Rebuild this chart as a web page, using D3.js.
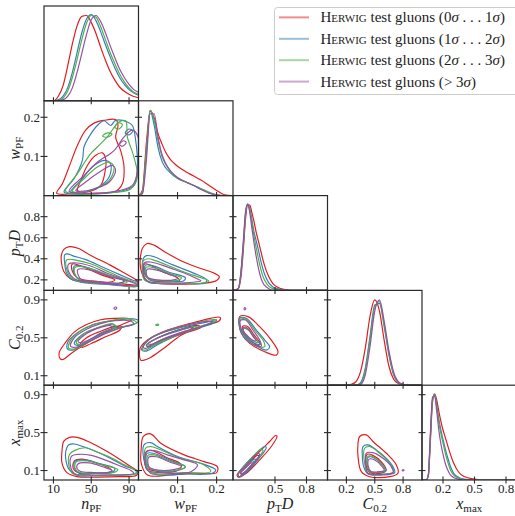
<!DOCTYPE html>
<html>
<head>
<meta charset="utf-8">
<script src="https://cdn.jsdelivr.net/npm/d3@7"></script>
<style>
  body { margin: 0; background: #fff; }
  svg { display: block; font-family: "Liberation Serif", "DejaVu Serif", serif; }
</style>
</head>
<body>
<svg id="chart" width="515" height="516"></svg>
<script>
// ---------------- data ----------------
const seriesColors = ["#e41a1c", "#377eb8", "#4daf4a", "#984ea3"];
const legendGenerator = "Herwig";
const legendRanges = ["0σ . . . 1σ", "1σ . . . 2σ", "2σ . . . 3σ", "> 3σ"];

// axis titles: [italic symbol, subscript, trailing italic symbol]
const axisTitles = [["n", "PF", ""], ["w", "PF", ""], ["p", "T", "D"], ["C", "0.2", ""], ["x", "max", ""]];
const xAxisDomains = [[0, 100], [0, 0.242], [0.1, 1.0], [0, 1], [0, 0.9]];
const yAxisDomains = [null, [0, 0.242], [0.1, 1.0], [0, 1], [0, 1]];
const xTickValues = [[10, 50, 90], [0.1, 0.2], [0.5, 0.8], [0.2, 0.5, 0.8], [0.2, 0.5, 0.8]];
const yTickValues = [[], [0.1, 0.2], [0.2, 0.4, 0.6, 0.8], [0.1, 0.5, 0.9], [0.1, 0.5, 0.9]];

// 1D marginal densities (peak-normalised), one grid per variable
const gridNpf = [0, 5, 10, 15, 20, 25, 30, 35, 40, 45, 50, 55, 60, 65, 70, 75, 80, 85, 90, 95, 100];
const densNpf = [
  [0, 0, 0, 0.05, 0.17, 0.40, 0.66, 0.87, 0.98, 0.99, 0.91, 0.78, 0.62, 0.47, 0.34, 0.24, 0.16, 0.11, 0.075, 0.05, 0.035],
  [0, 0, 0, 0.01, 0.05, 0.15, 0.33, 0.56, 0.79, 0.95, 1.0, 0.93, 0.80, 0.65, 0.51, 0.38, 0.27, 0.19, 0.13, 0.09, 0.065],
  [0, 0, 0, 0, 0.03, 0.11, 0.27, 0.48, 0.71, 0.90, 0.99, 0.97, 0.86, 0.71, 0.56, 0.43, 0.31, 0.22, 0.15, 0.10, 0.075],
  [0, 0, 0, 0, 0.01, 0.05, 0.15, 0.33, 0.55, 0.77, 0.94, 0.99, 0.92, 0.79, 0.64, 0.50, 0.37, 0.27, 0.19, 0.13, 0.10]
];
const gridWpf = [0, 0.01, 0.02, 0.03, 0.04, 0.05, 0.06, 0.07, 0.08, 0.09, 0.10, 0.12, 0.14, 0.16, 0.18, 0.20, 0.22, 0.242];
const densWpf = [
  [0, 0.06, 0.60, 0.99, 0.90, 0.72, 0.60, 0.50, 0.43, 0.38, 0.34, 0.28, 0.23, 0.18, 0.12, 0.06, 0.01, 0],
  [0, 0.03, 0.50, 0.98, 0.82, 0.56, 0.40, 0.32, 0.27, 0.23, 0.20, 0.16, 0.12, 0.08, 0.03, 0.005, 0, 0],
  [0, 0.04, 0.52, 0.99, 0.88, 0.64, 0.46, 0.36, 0.29, 0.24, 0.20, 0.16, 0.12, 0.08, 0.04, 0.01, 0, 0],
  [0, 0.02, 0.40, 0.95, 0.95, 0.68, 0.48, 0.37, 0.30, 0.25, 0.21, 0.16, 0.12, 0.07, 0.03, 0.01, 0, 0]
];
const gridPtd = [0.1, 0.15, 0.18, 0.2, 0.22, 0.24, 0.26, 0.28, 0.30, 0.32, 0.34, 0.36, 0.38, 0.40, 0.44, 0.48, 0.52, 0.6, 0.7, 1.0];
const densPtd = [
  [0, 0.02, 0.20, 0.50, 0.84, 0.99, 0.99, 0.90, 0.80, 0.68, 0.58, 0.48, 0.38, 0.29, 0.16, 0.08, 0.04, 0.01, 0, 0],
  [0, 0.02, 0.25, 0.55, 0.88, 1.0, 0.95, 0.82, 0.68, 0.58, 0.48, 0.37, 0.27, 0.19, 0.09, 0.04, 0.02, 0, 0, 0],
  [0, 0.02, 0.26, 0.57, 0.90, 1.0, 0.93, 0.78, 0.63, 0.50, 0.38, 0.27, 0.18, 0.12, 0.05, 0.02, 0.01, 0, 0, 0],
  [0, 0.02, 0.28, 0.60, 0.92, 1.0, 0.90, 0.72, 0.55, 0.40, 0.27, 0.17, 0.10, 0.06, 0.02, 0, 0, 0, 0, 0]
];
const gridC02 = [0, 0.2, 0.25, 0.3, 0.35, 0.4, 0.45, 0.5, 0.55, 0.6, 0.65, 0.7, 0.75, 0.8, 0.85, 1.0];
const densC02 = [
  [0, 0, 0.01, 0.04, 0.16, 0.43, 0.80, 0.99, 0.86, 0.52, 0.22, 0.07, 0.02, 0, 0, 0],
  [0, 0, 0, 0, 0.03, 0.20, 0.57, 0.93, 0.95, 0.68, 0.35, 0.12, 0.03, 0.01, 0, 0],
  [0, 0, 0, 0, 0.02, 0.17, 0.53, 0.90, 0.97, 0.70, 0.37, 0.13, 0.03, 0, 0, 0],
  [0, 0, 0, 0, 0.01, 0.12, 0.45, 0.86, 0.99, 0.74, 0.40, 0.15, 0.04, 0.01, 0, 0]
];
const gridXmax = [0, 0.04, 0.06, 0.08, 0.10, 0.12, 0.14, 0.16, 0.18, 0.20, 0.22, 0.24, 0.27, 0.30, 0.35, 0.40, 0.5, 0.6, 0.9];
const densXmax = [
  [0, 0, 0.05, 0.45, 0.90, 1.0, 0.93, 0.80, 0.68, 0.58, 0.50, 0.42, 0.30, 0.20, 0.09, 0.04, 0.01, 0, 0],
  [0, 0, 0.05, 0.50, 0.93, 0.99, 0.87, 0.71, 0.58, 0.47, 0.37, 0.28, 0.16, 0.08, 0.03, 0.01, 0, 0, 0],
  [0, 0, 0.05, 0.50, 0.93, 0.99, 0.85, 0.67, 0.54, 0.43, 0.32, 0.23, 0.12, 0.06, 0.02, 0, 0, 0, 0],
  [0, 0, 0.06, 0.55, 0.96, 0.98, 0.80, 0.58, 0.42, 0.30, 0.20, 0.13, 0.06, 0.03, 0.01, 0, 0, 0, 0]
];

// 2D density contours: per series (red, blue, green, purple) a list of closed loops of [x, y] values
const cWpfNpf = [
  [[[13.4,0.006],[19.4,0.03],[26.5,0.073],[35.3,0.128],[44.1,0.167],[52.9,0.185],[63.5,0.192],[75.8,0.194],[78.3,0.179],[75.8,0.15],[81.1,0.115],[84.7,0.073],[82.9,0.03],[75.8,0.011],[52.9,0.006],[28.2,0.004]],
   [[35.3,0.013],[38.8,0.038],[45.9,0.077],[54.7,0.103],[61.7,0.109],[65.3,0.094],[64.2,0.056],[60,0.026],[49.4,0.011],[38.8,0.009]]],
  [[[21.2,0.009],[31.7,0.043],[40.6,0.09],[42.3,0.124],[47.6,0.15],[56.4,0.179],[63.5,0.191],[70.5,0.179],[75.8,0.192],[88.2,0.188],[93.5,0.179],[97,0.141],[98.8,0.073],[95.2,0.026],[81.1,0.011],[52.9,0.004],[31.7,0.004]],
   [[28.2,0.009],[38.8,0.038],[51.1,0.073],[63.5,0.09],[70.5,0.081],[68.8,0.047],[56.4,0.02],[38.8,0.008]],
   [[86,0.16],[90,0.17],[94,0.165],[90,0.155]]],
  [[[22.9,0.011],[35.3,0.056],[49.4,0.107],[56.4,0.124],[67,0.15],[79.4,0.188],[86.4,0.191],[88.2,0.15],[95.2,0.098],[98.8,0.047],[91.7,0.017],[63.5,0.006],[38.8,0.004]],
   [[30,0.011],[42.3,0.043],[56.4,0.073],[68.8,0.085],[74.1,0.073],[68.8,0.038],[52.9,0.017],[37,0.008]],
   [[62,0.152],[67,0.16],[72,0.157],[67,0.149]],
   [[75,0.175],[79,0.186],[83,0.181],[79,0.17]]],
  [[[26.5,0.011],[42.3,0.051],[56.4,0.085],[74.1,0.115],[84.7,0.15],[93.5,0.167],[99.5,0.15],[99.5,0.073],[93.5,0.026],[70.5,0.009],[42.3,0.006]],
   [[33.5,0.013],[45.9,0.038],[60,0.062],[72.3,0.077],[75.8,0.064],[68.8,0.034],[52.9,0.017],[38.8,0.011]],
   [[80,0.13],[84,0.14],[87,0.136],[83,0.126]]]
];
const cPtdNpf = [
  [[[18.5,0.44],[21,0.49],[27,0.515],[36,0.5],[50,0.43],[70,0.34],[85,0.265],[95,0.215],[99,0.185],[98,0.155],[85,0.16],[60,0.17],[42,0.178],[28,0.21],[21,0.28],[18.5,0.36]],
   [[30,0.35],[40,0.33],[60,0.25],[75,0.2],[70,0.18],[50,0.19],[35,0.22],[30,0.28]]],
  [[[22,0.44],[26,0.445],[30,0.43],[45,0.39],[60,0.33],[75,0.27],[90,0.21],[100,0.17],[100,0.14],[70,0.155],[45,0.17],[30,0.2],[24,0.26],[22,0.35]],
   [[32,0.33],[45,0.32],[65,0.25],[85,0.19],[80,0.17],[55,0.18],[38,0.2],[32,0.26]]],
  [[[24,0.39],[35,0.385],[50,0.35],[65,0.29],[80,0.23],[95,0.18],[100,0.16],[98,0.14],[70,0.16],[45,0.175],[30,0.21],[24,0.3]],
   [[33,0.32],[48,0.31],[70,0.24],[88,0.18],[82,0.165],[55,0.18],[38,0.2],[33,0.25]]],
  [[[26,0.35],[35,0.36],[50,0.33],[65,0.27],[80,0.22],[95,0.17],[100,0.15],[90,0.145],[65,0.165],[45,0.18],[32,0.21],[26,0.28]],
   [[36,0.3],[50,0.29],[70,0.23],[85,0.19],[80,0.17],[55,0.185],[40,0.2],[36,0.25]]]
];
const cPtdWpf = [
  [[[0.005,0.42],[0.01,0.5],[0.022,0.545],[0.04,0.53],[0.07,0.46],[0.11,0.38],[0.15,0.32],[0.19,0.27],[0.207,0.23],[0.2,0.195],[0.16,0.165],[0.1,0.16],[0.05,0.165],[0.02,0.19],[0.006,0.3]],
   [[0.015,0.35],[0.03,0.34],[0.06,0.28],[0.1,0.22],[0.105,0.19],[0.07,0.185],[0.03,0.2],[0.015,0.26]]],
  [[[0.012,0.4],[0.02,0.43],[0.04,0.42],[0.07,0.37],[0.11,0.31],[0.15,0.25],[0.175,0.2],[0.17,0.17],[0.12,0.165],[0.06,0.165],[0.025,0.18],[0.012,0.26]],
   [[0.018,0.34],[0.04,0.33],[0.08,0.27],[0.12,0.22],[0.115,0.19],[0.07,0.19],[0.03,0.2],[0.017,0.26]]],
  [[[0.012,0.38],[0.025,0.4],[0.045,0.38],[0.08,0.33],[0.12,0.27],[0.16,0.22],[0.18,0.19],[0.16,0.168],[0.1,0.168],[0.04,0.172],[0.015,0.2],[0.01,0.28]],
   [[0.02,0.32],[0.045,0.31],[0.08,0.26],[0.11,0.22],[0.1,0.195],[0.06,0.19],[0.025,0.21],[0.018,0.26]]],
  [[[0.014,0.36],[0.03,0.37],[0.06,0.34],[0.09,0.3],[0.12,0.26],[0.15,0.21],[0.16,0.19],[0.12,0.172],[0.07,0.172],[0.03,0.18],[0.015,0.22],[0.012,0.3]],
   [[0.022,0.3],[0.05,0.29],[0.08,0.25],[0.1,0.215],[0.09,0.2],[0.05,0.2],[0.025,0.22],[0.02,0.26]]]
];
const cC02Npf = [
  [[[17,0.28],[16,0.34],[22,0.44],[32,0.56],[45,0.64],[60,0.69],[75,0.705],[88,0.705],[93,0.69],[85,0.65],[70,0.58],[55,0.5],[40,0.41],[28,0.33],[20,0.27]],
   [[38,0.42],[45,0.5],[60,0.57],[75,0.62],[82,0.62],[80,0.58],[65,0.51],[50,0.44],[40,0.4]]],
  [[[25,0.38],[25,0.45],[35,0.55],[50,0.63],[65,0.67],[80,0.69],[95,0.7],[100,0.68],[95,0.64],[75,0.6],[55,0.5],[40,0.42],[30,0.37]],
   [[32,0.44],[40,0.53],[55,0.6],[70,0.64],[75,0.62],[60,0.55],[45,0.46],[36,0.42]]],
  [[[26,0.39],[28,0.47],[38,0.57],[52,0.64],[70,0.68],[90,0.7],[98,0.66],[85,0.62],[65,0.55],[48,0.46],[35,0.39]],
   [[34,0.45],[42,0.54],[58,0.61],[72,0.65],[76,0.62],[62,0.55],[47,0.47],[38,0.43]]],
  [[[28,0.41],[32,0.5],[45,0.59],[60,0.65],[75,0.68],[90,0.68],[95,0.65],[80,0.6],[62,0.53],[46,0.45],[34,0.4]],
   [[36,0.46],[46,0.55],[60,0.61],[70,0.63],[72,0.6],[60,0.54],[48,0.48],[40,0.45]],
   [[74,0.81],[75.5,0.825],[77,0.815],[75.5,0.8]]]
];
const cC02Wpf = [
  [[[0.0056,0.265],[0.004,0.388],[0.023,0.476],[0.074,0.582],[0.134,0.653],[0.185,0.705],[0.209,0.716],[0.207,0.68],[0.16,0.62],[0.11,0.53],[0.065,0.39],[0.03,0.29],[0.012,0.262]],
   [[0.02,0.42],[0.05,0.5],[0.1,0.58],[0.15,0.63],[0.16,0.61],[0.11,0.54],[0.06,0.46],[0.03,0.41]]],
  [[[0.008,0.37],[0.02,0.46],[0.06,0.55],[0.12,0.62],[0.18,0.67],[0.2,0.69],[0.195,0.66],[0.15,0.6],[0.1,0.53],[0.05,0.43],[0.02,0.36]],
   [[0.02,0.42],[0.05,0.5],[0.1,0.57],[0.14,0.61],[0.13,0.58],[0.09,0.52],[0.05,0.45],[0.028,0.4]]],
  [[[0.01,0.38],[0.025,0.48],[0.07,0.57],[0.13,0.64],[0.185,0.69],[0.2,0.69],[0.18,0.65],[0.12,0.57],[0.07,0.49],[0.035,0.41],[0.018,0.37]],
   [[0.022,0.43],[0.055,0.51],[0.1,0.58],[0.15,0.62],[0.14,0.59],[0.1,0.53],[0.06,0.46],[0.03,0.42]],
   [[0.044,0.635],[0.048,0.645],[0.052,0.638],[0.048,0.63]]],
  [[[0.012,0.4],[0.03,0.49],[0.07,0.57],[0.12,0.63],[0.17,0.67],[0.19,0.67],[0.17,0.63],[0.12,0.57],[0.07,0.5],[0.035,0.43],[0.02,0.39]],
   [[0.025,0.44],[0.06,0.52],[0.1,0.58],[0.14,0.61],[0.13,0.58],[0.09,0.52],[0.055,0.47],[0.032,0.43]]]
];
const cC02Ptd = [
  [[[0.163,0.723],[0.243,0.723],[0.354,0.617],[0.465,0.476],[0.529,0.353],[0.513,0.317],[0.402,0.353],[0.259,0.441],[0.179,0.547],[0.157,0.653]],
   [[0.19,0.62],[0.24,0.62],[0.3,0.53],[0.36,0.44],[0.34,0.42],[0.27,0.47],[0.21,0.55]]],
  [[[0.163,0.705],[0.227,0.705],[0.322,0.582],[0.402,0.476],[0.449,0.406],[0.417,0.37],[0.338,0.406],[0.227,0.476],[0.17,0.582]],
   [[0.2,0.6],[0.25,0.58],[0.32,0.48],[0.36,0.43],[0.31,0.44],[0.24,0.5],[0.2,0.56]]],
  [[[0.17,0.695],[0.227,0.695],[0.306,0.582],[0.386,0.476],[0.402,0.406],[0.322,0.413],[0.227,0.494],[0.176,0.589]],
   [[0.2,0.6],[0.24,0.59],[0.3,0.5],[0.34,0.45],[0.3,0.46],[0.24,0.51],[0.2,0.56]]],
  [[[0.17,0.681],[0.221,0.688],[0.29,0.582],[0.354,0.476],[0.37,0.413],[0.306,0.423],[0.221,0.511],[0.176,0.6]],
   [[0.2,0.61],[0.24,0.6],[0.29,0.52],[0.32,0.47],[0.28,0.48],[0.23,0.53],[0.2,0.57]],
   [[0.205,0.805],[0.213,0.82],[0.222,0.81],[0.214,0.795]]]
];
const cXmaxNpf = [
  [[[19,0.3],[21,0.41],[27,0.45],[35,0.45],[48,0.4],[65,0.31],[80,0.22],[92,0.14],[99,0.09],[98,0.05],[80,0.035],[55,0.03],[35,0.035],[24,0.08],[19,0.18]],
   [[32,0.2],[40,0.22],[55,0.18],[70,0.12],[72,0.09],[55,0.07],[38,0.07],[31,0.12]]],
  [[[23,0.3],[26,0.37],[32,0.38],[42,0.35],[55,0.3],[70,0.23],[85,0.15],[97,0.1],[99,0.07],[80,0.05],[55,0.045],[35,0.05],[26,0.12],[23,0.22]],
   [[33,0.2],[45,0.21],[60,0.17],[75,0.12],[72,0.08],[50,0.07],[36,0.08],[32,0.13]]],
  [[[27,0.27],[32,0.31],[44,0.34],[55,0.3],[70,0.24],[85,0.16],[98,0.09],[95,0.06],[70,0.05],[45,0.05],[30,0.07],[26,0.17]],
   [[34,0.19],[46,0.2],[62,0.16],[78,0.11],[74,0.08],[52,0.075],[38,0.08],[33,0.12]]],
  [[[29,0.25],[36,0.27],[50,0.26],[65,0.21],[80,0.15],[92,0.1],[95,0.07],[70,0.055],[45,0.055],[32,0.07],[28,0.15]],
   [[36,0.17],[48,0.18],[62,0.14],[72,0.1],[68,0.08],[50,0.08],[39,0.09],[35,0.12]]]
];
const cXmaxWpf = [
  [[[0.0124,0.459],[0.031,0.487],[0.057,0.388],[0.117,0.265],[0.168,0.194],[0.202,0.141],[0.2,0.078],[0.142,0.071],[0.083,0.053],[0.023,0.053],[0.007,0.176],[0.007,0.335]],
   [[0.02,0.3],[0.035,0.31],[0.07,0.24],[0.11,0.16],[0.1,0.1],[0.05,0.09],[0.02,0.13]]],
  [[[0.014,0.37],[0.031,0.395],[0.048,0.353],[0.1,0.247],[0.16,0.176],[0.198,0.106],[0.189,0.071],[0.117,0.063],[0.031,0.071],[0.016,0.176]],
   [[0.022,0.28],[0.04,0.28],[0.08,0.21],[0.12,0.14],[0.1,0.1],[0.05,0.095],[0.023,0.14]]],
  [[[0.018,0.335],[0.031,0.353],[0.053,0.325],[0.108,0.229],[0.168,0.159],[0.185,0.088],[0.117,0.078],[0.031,0.078],[0.018,0.176]],
   [[0.024,0.26],[0.04,0.265],[0.08,0.2],[0.12,0.14],[0.1,0.105],[0.05,0.1],[0.025,0.14]]],
  [[[0.021,0.3],[0.04,0.31],[0.074,0.265],[0.117,0.212],[0.151,0.159],[0.134,0.088],[0.057,0.078],[0.022,0.106]],
   [[0.026,0.24],[0.045,0.245],[0.08,0.19],[0.11,0.14],[0.09,0.11],[0.05,0.105],[0.027,0.14]]]
];
const cXmaxPtd = [
  [[[0.138,0.053],[0.29,0.229],[0.449,0.406],[0.506,0.469],[0.519,0.459],[0.465,0.353],[0.354,0.212],[0.227,0.071],[0.157,0.028]],
   [[0.17,0.07],[0.25,0.17],[0.33,0.26],[0.35,0.25],[0.28,0.15],[0.2,0.06]]],
  [[[0.148,0.06],[0.259,0.212],[0.402,0.353],[0.417,0.342],[0.322,0.194],[0.211,0.063],[0.157,0.035]],
   [[0.17,0.07],[0.24,0.15],[0.3,0.22],[0.32,0.21],[0.26,0.13],[0.19,0.065]]],
  [[[0.148,0.06],[0.243,0.194],[0.37,0.325],[0.386,0.31],[0.29,0.176],[0.195,0.06],[0.157,0.035]],
   [[0.17,0.07],[0.23,0.14],[0.28,0.2],[0.3,0.19],[0.25,0.12],[0.19,0.065]]],
  [[[0.148,0.06],[0.227,0.159],[0.338,0.282],[0.354,0.265],[0.275,0.159],[0.189,0.053],[0.157,0.035]],
   [[0.17,0.075],[0.22,0.13],[0.27,0.18],[0.29,0.17],[0.24,0.11],[0.19,0.07]]]
];
const cXmaxC02 = [
  [[[0.34,0.459],[0.411,0.476],[0.481,0.406],[0.623,0.282],[0.728,0.159],[0.746,0.071],[0.658,0.035],[0.446,0.035],[0.358,0.088],[0.323,0.247],[0.323,0.388]],
   [[0.42,0.27],[0.48,0.26],[0.58,0.18],[0.62,0.1],[0.55,0.07],[0.45,0.08],[0.41,0.15]]],
  [[[0.376,0.353],[0.429,0.37],[0.517,0.317],[0.623,0.229],[0.693,0.141],[0.711,0.078],[0.587,0.053],[0.429,0.063],[0.383,0.141],[0.369,0.247]],
   [[0.43,0.24],[0.5,0.23],[0.58,0.16],[0.62,0.1],[0.54,0.08],[0.45,0.09],[0.42,0.16]]],
  [[[0.393,0.335],[0.446,0.353],[0.552,0.282],[0.658,0.176],[0.7,0.088],[0.587,0.06],[0.429,0.071],[0.393,0.176]],
   [[0.43,0.25],[0.49,0.24],[0.57,0.17],[0.61,0.1],[0.54,0.08],[0.45,0.09],[0.42,0.16]]],
  [[[0.411,0.282],[0.481,0.289],[0.587,0.229],[0.675,0.141],[0.693,0.078],[0.552,0.06],[0.429,0.071],[0.404,0.176]],
   [[0.44,0.22],[0.5,0.21],[0.57,0.15],[0.6,0.1],[0.53,0.085],[0.46,0.09],[0.43,0.15]],
   [[0.79,0.1],[0.8,0.11],[0.81,0.104],[0.8,0.095]]]
];

// ---------------- layout ----------------
const svg = d3.select("#chart");
const gridLeft = 44, gridTop = 6, cellW = 94.5, cellH = 94.8;
const colX = j => gridLeft + j * cellW;
const rowY = i => gridTop + i * cellH;

const xScales = xAxisDomains.map((d, j) => d3.scaleLinear().domain(d).range([colX(j), colX(j) + cellW]));
const yScales = yAxisDomains.map((d, i) => d ? d3.scaleLinear().domain(d).range([rowY(i) + cellH, rowY(i)]) : null);
const densityScale = i => d3.scaleLinear().domain([0, 1.1]).range([rowY(i) + cellH, rowY(i)]);

const defs = svg.append("defs");
function clipFor(i, j) {
  const id = `clip-${i}-${j}`;
  defs.append("clipPath").attr("id", id).append("rect")
    .attr("x", colX(j)).attr("y", rowY(i)).attr("width", cellW).attr("height", cellH);
  return `url(#${id})`;
}

// diagonal: marginal densities
const diagGrids = [gridNpf, gridWpf, gridPtd, gridC02, gridXmax];
const diagDens = [densNpf, densWpf, densPtd, densC02, densXmax];
diagGrids.forEach((grid, i) => {
  const g = svg.append("g").attr("clip-path", clipFor(i, i));
  const ys = densityScale(i);
  const line = d3.line()
    .x((d, k) => xScales[i](grid[k]))
    .y(d => ys(d))
    .curve(d3.curveMonotoneX);
  diagDens[i].forEach((vals, s) => {
    g.append("path").attr("d", line(vals))
      .attr("fill", "none").attr("stroke", seriesColors[s]).attr("stroke-width", 1.2);
  });
});

// off-diagonal: contour loops
const contourPanels = [
  [1, 0, cWpfNpf], [2, 0, cPtdNpf], [2, 1, cPtdWpf],
  [3, 0, cC02Npf], [3, 1, cC02Wpf], [3, 2, cC02Ptd],
  [4, 0, cXmaxNpf], [4, 1, cXmaxWpf], [4, 2, cXmaxPtd], [4, 3, cXmaxC02]
];
contourPanels.forEach(([i, j, data]) => {
  const g = svg.append("g").attr("clip-path", clipFor(i, j));
  const loopLine = d3.line()
    .x(p => xScales[j](p[0]))
    .y(p => yScales[i](p[1]))
    .curve(d3.curveCatmullRomClosed.alpha(0.5));
  data.forEach((loops, s) => {
    loops.forEach(loop => {
      g.append("path").attr("d", loopLine(loop))
        .attr("fill", "none").attr("stroke", seriesColors[s])
        .attr("stroke-width", 1.15).attr("stroke-linejoin", "round");
    });
  });
});

// frames and ticks
const frame = svg.append("g");
const tickLen = 3.5;
for (let i = 0; i < 5; i++) {
  for (let j = 0; j <= i; j++) {
    frame.append("rect")
      .attr("x", colX(j)).attr("y", rowY(i)).attr("width", cellW).attr("height", cellH)
      .attr("fill", "none").attr("stroke", "#2a2a2a").attr("stroke-width", 1.2);
    const yb = rowY(i) + cellH;
    xTickValues[j].forEach(v => {
      const x = xScales[j](v);
      frame.append("line").attr("x1", x).attr("x2", x).attr("y1", yb - tickLen).attr("y2", yb + tickLen)
        .attr("stroke", "#2a2a2a").attr("stroke-width", 1.1);
    });
    if (yScales[i]) {
      yTickValues[i].forEach(v => {
        const y = yScales[i](v);
        frame.append("line").attr("x1", colX(j) - tickLen).attr("x2", colX(j) + tickLen).attr("y1", y).attr("y2", y)
          .attr("stroke", "#2a2a2a").attr("stroke-width", 1.1);
      });
    }
  }
}

// tick labels
const labels = svg.append("g").attr("fill", "#222").attr("font-size", 13);
xTickValues.forEach((ticks, j) => {
  ticks.forEach(v => {
    labels.append("text").attr("x", xScales[j](v)).attr("y", 493)
      .attr("text-anchor", "middle").text(String(v));
  });
});
yTickValues.forEach((ticks, i) => {
  if (!yScales[i]) return;
  ticks.forEach(v => {
    labels.append("text").attr("x", 40).attr("y", yScales[i](v)).attr("dy", "0.35em")
      .attr("text-anchor", "end").text(String(v));
  });
});

// axis titles
function title(sel, parts) {
  const [sym, sub, tail] = parts;
  sel.append("tspan").attr("font-style", "italic").text(sym);
  sel.append("tspan").attr("font-size", 11).attr("dy", 3).text(sub);
  if (tail) sel.append("tspan").attr("font-style", "italic").attr("dy", -3).text(tail);
}
axisTitles.forEach((parts, j) => {
  const t = svg.append("text").attr("x", colX(j) + cellW / 2).attr("y", 509)
    .attr("text-anchor", "middle").attr("font-size", 16).attr("fill", "#222");
  title(t, parts);
  if (j > 0) {
    const cy = rowY(j) + cellH / 2;
    const r = svg.append("text").attr("transform", `translate(20,${cy}) rotate(-90)`)
      .attr("text-anchor", "middle").attr("font-size", 16).attr("fill", "#222");
    title(r, parts);
  }
});

// legend
const lg = svg.append("g");
lg.append("rect").attr("x", 274.5).attr("y", 7.5).attr("width", 250).attr("height", 87)
  .attr("rx", 3).attr("fill", "#fff").attr("fill-opacity", 0.85)
  .attr("stroke", "#cccccc").attr("stroke-width", 1);
legendRanges.forEach((r, k) => {
  const yy = 17.4 + k * 21.4;
  lg.append("line").attr("x1", 279).attr("x2", 309).attr("y1", yy).attr("y2", yy)
    .attr("stroke", seriesColors[k]).attr("stroke-opacity", 0.5).attr("stroke-width", 2);
  const t = lg.append("text").attr("x", 320.5).attr("y", yy + 5)
    .attr("font-size", 15).attr("fill", "#222");
  t.append("tspan").style("font-variant", "small-caps").text(legendGenerator);
  t.append("tspan").text(" test gluons (");
  const pieces = r.split("σ");
  pieces.forEach((p, n) => {
    if (p) t.append("tspan").text(p);
    if (n < pieces.length - 1) t.append("tspan").attr("font-style", "italic").text("σ");
  });
  t.append("tspan").text(")");
});
</script>
</body>
</html>
